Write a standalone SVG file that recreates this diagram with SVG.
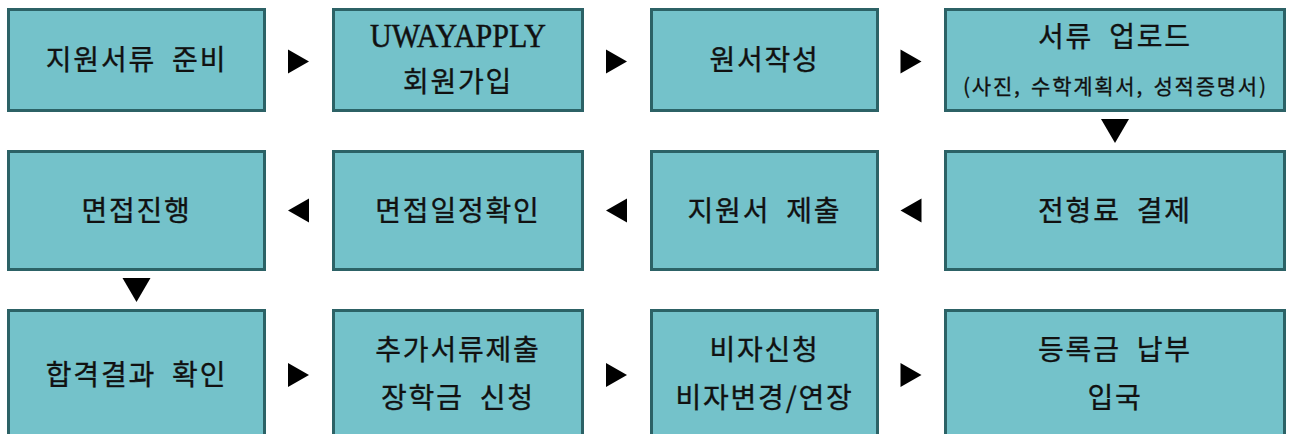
<svg xmlns="http://www.w3.org/2000/svg" xmlns:xlink="http://www.w3.org/1999/xlink" width="1292" height="434" viewBox="0 0 1292 434">
  <style>
    .box { fill: #74C2CA; stroke: #2C6266; stroke-width: 3; }
    .t { font-family: "Noto Sans CJK KR", "Noto Sans", sans-serif; font-size: 28px; font-weight: 400; fill: #111; stroke: #111; stroke-width: 0.35px; text-anchor: middle; word-spacing: 8px; letter-spacing: 1.8px; }
    .s { font-size: 21px; word-spacing: 3px; letter-spacing: 1px; stroke-width: 0.3px; }
    .lat { font-family: "Liberation Serif", serif; font-size: 33px; letter-spacing: 0; stroke-width: 0.5px; }
    .arr { fill: #000; }
  </style>
  <defs>
    <polygon id="ar" points="-10.5,-12 10.5,0 -10.5,12"/>
    <polygon id="al" points="10.5,-12 -10.5,0 10.5,12"/>
    <polygon id="ad" points="-14,-12 14,-12 0,12"/>
  </defs>
  <rect width="1292" height="434" fill="#fff"/>

  <g id="n1"><rect class="box" x="8.5" y="9.5" width="256" height="101"/><text class="t" x="136.5" y="70">지원서류 준비</text></g>
  <g id="n2"><rect class="box" x="333.5" y="9.5" width="249" height="101"/><text class="t lat" x="458" y="47" textLength="176" lengthAdjust="spacingAndGlyphs">UWAYAPPLY</text><text class="t" x="458" y="92">회원가입</text></g>
  <g id="n3"><rect class="box" x="651.5" y="9.5" width="226" height="101"/><text class="t" x="764.5" y="70">원서작성</text></g>
  <g id="n4"><rect class="box" x="945.5" y="9.5" width="339" height="101"/><text class="t" x="1115" y="47">서류 업로드</text><text class="t s" x="1115" y="94" textLength="304">(사진, 수학계획서, 성적증명서)</text></g>

  <g id="n5"><rect class="box" x="8.5" y="151.5" width="256" height="118"/><text class="t" x="136.5" y="220.5">면접진행</text></g>
  <g id="n6"><rect class="box" x="333.5" y="151.5" width="249" height="118"/><text class="t" x="458" y="220.5">면접일정확인</text></g>
  <g id="n7"><rect class="box" x="651.5" y="151.5" width="226" height="118"/><text class="t" x="764.5" y="220.5">지원서 제출</text></g>
  <g id="n8"><rect class="box" x="945.5" y="151.5" width="339" height="118"/><text class="t" x="1115" y="220.5">전형료 결제</text></g>

  <g id="n9"><rect class="box" x="8.5" y="310.5" width="256" height="140"/><text class="t" x="136.5" y="385">합격결과 확인</text></g>
  <g id="n10"><rect class="box" x="333.5" y="310.5" width="249" height="140"/><text class="t" x="458" y="360">추가서류제출</text><text class="t" x="458" y="408">장학금 신청</text></g>
  <g id="n11"><rect class="box" x="651.5" y="310.5" width="226" height="140"/><text class="t" x="764.5" y="360">비자신청</text><text class="t" x="764.5" y="408">비자변경/연장</text></g>
  <g id="n12"><rect class="box" x="945.5" y="310.5" width="339" height="140"/><text class="t" x="1115" y="360">등록금 납부</text><text class="t" x="1115" y="408">입국</text></g>

  <g id="connectors" class="arr">
    <use xlink:href="#ar" x="298.5" y="61.5"/>
    <use xlink:href="#ar" x="616.5" y="61.5"/>
    <use xlink:href="#ar" x="911" y="61.5"/>
    <use xlink:href="#ad" x="1115" y="131"/>
    <use xlink:href="#al" x="911" y="210.5"/>
    <use xlink:href="#al" x="616.5" y="210.5"/>
    <use xlink:href="#al" x="298.5" y="210.5"/>
    <use xlink:href="#ad" x="136.5" y="290"/>
    <use xlink:href="#ar" x="298.5" y="375"/>
    <use xlink:href="#ar" x="616.5" y="375"/>
    <use xlink:href="#ar" x="911" y="375"/>
  </g>
</svg>
